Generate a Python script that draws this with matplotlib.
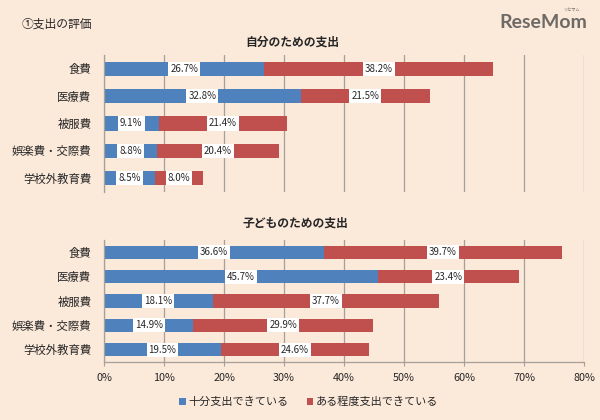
import numpy as np
import matplotlib
matplotlib.use("Agg")
import matplotlib.pyplot as plt
from matplotlib.patches import Patch

plt.rcParams['font.family'] = ['Noto Sans CJK JP', 'DejaVu Sans']

categories = ['食費', '医療費', '被服費', '娯楽費・交際費', '学校外教育費']
self_full = [26.7, 32.8, 9.1, 8.8, 8.5]
self_some = [38.2, 21.5, 21.4, 20.4, 8.0]
kids_full = [36.6, 45.7, 18.1, 14.9, 19.5]
kids_some = [39.7, 23.4, 37.7, 29.9, 24.6]
xticks = [0, 10, 20, 30, 40, 50, 60, 70, 80]
series_names = ['十分支出できている', 'ある程度支出できている']

bg = '#FBE9DA'
blue = '#4F81BD'
red = '#C0504D'
grid_c = '#A6A09A'
text_c = '#262626'

W, H = 600, 420
fig = plt.figure(figsize=(6, 4.2), dpi=100, facecolor=bg)


def px_axes(top, bottom):
    return fig.add_axes([104 / W, 1 - bottom / H, 480 / W, (bottom - top) / H])


def draw(ax, full, some, bar_h, show_x):
    ax.set_facecolor(bg)
    y = np.arange(len(categories))
    ax.barh(y, full, height=bar_h, color=blue, zorder=2)
    ax.barh(y, some, left=full, height=bar_h, color=red, zorder=2)
    for i in range(len(categories)):
        ax.text(full[i] / 2, y[i], f'{full[i]:.1f}%', ha='center', va='center',
                fontsize=7, color=text_c, zorder=3,
                bbox=dict(facecolor='white', edgecolor='none', pad=1.5))
        ax.text(full[i] + some[i] / 2, y[i], f'{some[i]:.1f}%', ha='center', va='center',
                fontsize=7, color=text_c, zorder=3,
                bbox=dict(facecolor='white', edgecolor='none', pad=1.5))
    ax.set_xlim(0, 80)
    ax.set_ylim(len(categories) - 0.5, -0.5)
    ax.set_yticks(y)
    ax.set_yticklabels(categories, fontsize=8.2, color=text_c)
    ax.tick_params(axis='y', length=0, pad=9)
    ax.set_xticks(xticks)
    ax.grid(axis='x', color=grid_c, linewidth=0.9, zorder=0)
    for s in ['top', 'right']:
        ax.spines[s].set_visible(False)
    ax.spines['left'].set_color(grid_c)
    ax.spines['left'].set_linewidth(0.9)
    if show_x:
        ax.spines['bottom'].set_color(grid_c)
        ax.spines['bottom'].set_linewidth(0.9)
        ax.set_xticklabels([f'{t}%' for t in xticks], fontsize=7.8, color=text_c)
        ax.tick_params(axis='x', length=3, color=grid_c, pad=5)
    else:
        ax.spines['bottom'].set_visible(False)
        ax.tick_params(axis='x', length=0, labelbottom=False)


ax1 = px_axes(55, 192)
draw(ax1, self_full, self_some, 0.52, False)
ax2 = px_axes(240, 362)
draw(ax2, kids_full, kids_some, 0.54, True)

fig.text(22 / W, 1 - 24 / H, '①支出の評価', fontsize=8.5, color=text_c, va='center')
fig.text(292 / W, 1 - 42 / H, '自分のための支出', fontsize=8.5, fontweight='bold',
         color=text_c, ha='center', va='center')
fig.text(295 / W, 1 - 223 / H, '子どものための支出', fontsize=8.5, fontweight='bold',
         color=text_c, ha='center', va='center')

fig.text(587 / W, 1 - 23 / H, 'ReseMom', fontsize=14, fontweight='bold',
         color='#6E6A66', ha='right', va='center', family=['Lato', 'DejaVu Sans'])
fig.text(580 / W, 1 - 10 / H, 'リセマム', fontsize=3, color='#6E6A66',
         ha='right', va='center')

handles = [Patch(facecolor=blue), Patch(facecolor=red)]
fig.legend(handles, series_names, loc='center', bbox_to_anchor=(0.515, 1 - 402 / H),
           ncol=2, frameon=False, fontsize=8, handlelength=0.6, handleheight=0.6,
           handletextpad=0.25, columnspacing=1.6, labelcolor=text_c)

fig.savefig('out.png', dpi=100, facecolor=bg)
